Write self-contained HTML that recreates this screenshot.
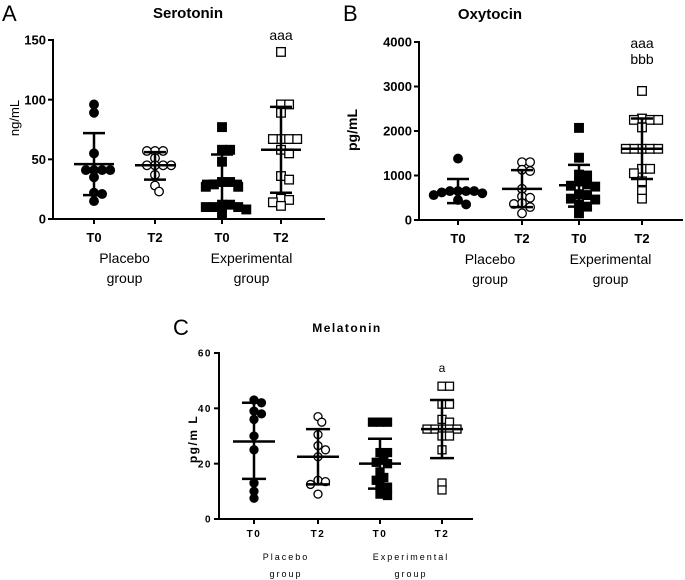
<!DOCTYPE html>
<html><head><meta charset="utf-8">
<style>
html,body{margin:0;padding:0;background:#fff;}
svg{display:block;font-family:"Liberation Sans",sans-serif;}
</style></head>
<body>
<svg id="fig" width="685" height="580" viewBox="0 0 685 580"></svg>
<script>
// ---- Data ----
const categories = ["T0","T2","T0","T2"];
const groupLabels = ["Placebo","Experimental"];
// Serotonin (ng/mL)
const seroPT0 = [96,89,55,41,41,41,41,35,22,21,15];
const seroPT2 = [57,57,57,51,45,45,45,45,37,28,23];
const seroET0 = [77,58,58,48,31,31,29,27,27,12,12,10,10,10,8,5];
const seroET2 = [140,96,96,89,67,67,67,67,58,55,36,33,17,16,14,11];
const seroMean = [46,45,32,58];
const seroHi = [72,56,54,94];
const seroLo = [20,33,10,22];
const seroTicks = [0,50,100,150];
// Oxytocin (pg/mL)
const oxyPT0 = [1380,650,650,650,650,620,600,560,450,350];
const oxyPT2 = [1300,1300,1130,1100,700,530,500,380,360,290,150];
const oxyET0 = [2070,1400,1020,1000,870,800,770,750,580,560,480,460,350,300,150];
const oxyET2 = [2900,2280,2250,2250,2250,2080,1600,1600,1600,1600,1600,1150,1150,1050,870,650,480];
const oxyMean = [650,700,780,1600];
const oxyHi = [920,1120,1240,2280];
const oxyLo = [380,290,300,920];
const oxyTicks = [0,1000,2000,3000,4000];
// Melatonin (pg/mL)
const melPT0 = [43,42,39,38,36,30,25,13,10,7.5];
const melPT2 = [37,35,30.5,26.5,25,22.5,14,13.5,12.5,9];
const melET0 = [35,35,35,24,24,22,20.5,20,17,15,14,12,11.5,9,8.5];
const melET2 = [48,48,41.5,41.5,36,35,32.5,32.5,32.5,32.5,32.5,30,30,25,13,10.5];
const melMean = [28,22.5,20,32.5];
const melHi = [42,32.5,29,43];
const melLo = [14.5,12.5,11,22];
const melTicks = [0,20,40,60];

const NS="http://www.w3.org/2000/svg";
const svg=document.getElementById('fig');
function el(tag,attrs,parent,text){const e=document.createElementNS(NS,tag);for(const k in attrs)e.setAttribute(k,attrs[k]);if(text!==undefined)e.textContent=text;(parent||svg).appendChild(e);return e;}

function panel(cfg){
  const g=el('g',{});
  
  
  const yS=v=>cfg.y0-(v-cfg.min)/(cfg.max-cfg.min)*(cfg.y0-cfg.yTop);
  const xS=i=>cfg.cx[i];
  const ya=el('line',{x1:cfg.ax,y1:cfg.yTop-1,x2:cfg.ax,y2:cfg.y0+1,stroke:'#000','stroke-width':2},g);
  
  const xa=el('line',{x1:cfg.ax-1,y1:cfg.y0,x2:cfg.axEnd,y2:cfg.y0,stroke:'#000','stroke-width':2},g);
  
  cfg.ticks.forEach(t=>{
    el('line',{x1:cfg.ax-5,y1:yS(t),x2:cfg.ax,y2:yS(t),stroke:'#000','stroke-width':2},g);
    const tl=el('text',{x:cfg.ax-7,y:yS(t)+cfg.tfs*0.36,'text-anchor':'end','font-size':cfg.tfs,'font-weight':'bold','letter-spacing':cfg.ls},g,t);
    
  });
  categories.forEach((c,i)=>{
    el('line',{x1:xS(i),y1:cfg.y0,x2:xS(i),y2:cfg.y0+5,stroke:'#000','stroke-width':2},g);
    const t=el('text',{x:xS(i),y:cfg.xly,'text-anchor':'middle','font-size':cfg.xfs,'font-weight':'bold','letter-spacing':cfg.ls},g,c);
    
  });
  groupLabels.forEach((gl,k)=>{
    const cx=(xS(2*k)+xS(2*k+1))/2;
    const a=el('text',{x:cx,y:cfg.gly1,'text-anchor':'middle','font-size':cfg.gfs,'letter-spacing':cfg.gls},g,gl);
    
    const b=el('text',{x:cx,y:cfg.gly2,'text-anchor':'middle','font-size':cfg.gfs,'letter-spacing':cfg.gls},g,'group');
    
  });
  cfg.series.forEach((vals,i)=>{
    const placed=[];const r=cfg.r;const d=2*r-0.5;
    vals.forEach(v=>{
      const py=yS(v);let off=0;
      const cands=[0];for(let k=1;k<12;k++){cands.push(k*d/2,-k*d/2);}
      for(const c of cands){ if(placed.every(p=>Math.hypot(p[0]-c,(p[1]-py)*1.3)>=d)){off=c;break;} }
      placed.push([off,py]);
      const px=xS(i)+off;
      let m;
      if(i<2) m=el('circle',{cx:px,cy:py,r:r,fill:i===0?'#000':'#fff',stroke:'#000','stroke-width':1.3},g);
      else m=el('rect',{x:px-r,y:py-r,width:2*r,height:2*r,fill:i===2?'#000':'#fff',stroke:'#000','stroke-width':1.3},g);
      
    });
    const x=xS(i);
    const eb=el('g',{},g);
    el('line',{x1:x,y1:yS(cfg.hi[i]),x2:x,y2:yS(cfg.lo[i]),stroke:'#000','stroke-width':2.5},eb);
    el('line',{x1:x-cfg.mw,y1:yS(cfg.mean[i]),x2:x+cfg.mw,y2:yS(cfg.mean[i]),stroke:'#000','stroke-width':2.5},eb);
    el('line',{x1:x-cfg.sw,y1:yS(cfg.hi[i]),x2:x+cfg.sw,y2:yS(cfg.hi[i]),stroke:'#000','stroke-width':2.5},eb);
    el('line',{x1:x-cfg.sw,y1:yS(cfg.lo[i]),x2:x+cfg.sw,y2:yS(cfg.lo[i]),stroke:'#000','stroke-width':2.5},eb);
  });
  const pl=el('text',{x:cfg.plx,y:cfg.ply,'font-size':22},g,cfg.letter);
  
  const ti=el('text',{x:cfg.tx,y:cfg.ty,'text-anchor':'middle','font-size':cfg.tifs,'font-weight':'bold','letter-spacing':cfg.tls},g,cfg.title);
  
  const yt=el('text',{x:0,y:0,transform:`translate(${cfg.ytx},${cfg.yty}) rotate(-90)`,'text-anchor':'middle','font-size':cfg.ytfs,'font-weight':cfg.ytw,'letter-spacing':cfg.ls},g,cfg.ytitle);
  
  cfg.sig.forEach((s,k)=>{
    const t=el('text',{x:xS(3),y:cfg.sigy+k*16,'text-anchor':'middle','font-size':cfg.sigfs},g,s);
    
  });
}

panel({name:'serotonin',letter:'A',plx:2,ply:21,title:'Serotonin',tx:188,ty:18,tifs:15,tls:0,
  ax:53,axEnd:325,y0:219,yTop:40,min:0,max:150,cx:[94,155,222,281],ticks:seroTicks,tfs:13,xfs:13,ls:0,
  xly:242,gly1:263,gly2:283,gfs:14,gls:0,series:[seroPT0,seroPT2,seroET0,seroET2],
  mean:seroMean,hi:seroHi,lo:seroLo,r:4.3,mw:20,sw:11,ytitle:'ng/mL',ytx:19,yty:118,ytfs:13,ytw:'normal',
  sig:['aaa'],sigy:40,sigfs:14});
panel({name:'oxytocin',letter:'B',plx:343,ply:21,title:'Oxytocin',tx:490,ty:19,tifs:15,tls:0,
  ax:419,axEnd:683,y0:220,yTop:42,min:0,max:4000,cx:[458,522,579,642],ticks:oxyTicks,tfs:13,xfs:13,ls:0,
  xly:243,gly1:264,gly2:284,gfs:14,gls:0,series:[oxyPT0,oxyPT2,oxyET0,oxyET2],
  mean:oxyMean,hi:oxyHi,lo:oxyLo,r:4.3,mw:20,sw:11,ytitle:'pg/mL',ytx:357,yty:130,ytfs:14,ytw:'bold',
  sig:['aaa','bbb'],sigy:48,sigfs:14});
panel({name:'melatonin',letter:'C',plx:173,ply:335,title:'Melatonin',tx:347,ty:332,tifs:12,tls:1.5,
  ax:219,axEnd:473,y0:519,yTop:353,min:0,max:60,cx:[254,318,380,442],ticks:melTicks,tfs:10,xfs:10,ls:1.5,
  xly:537,gly1:560,gly2:577,gfs:9,gls:2,series:[melPT0,melPT2,melET0,melET2],
  mean:melMean,hi:melHi,lo:melLo,r:4,mw:21,sw:12,ytitle:'pg/m L',ytx:197,yty:439,ytfs:12,ytw:'bold',
  sig:['a'],sigy:372,sigfs:12});
</script>
</body></html>
